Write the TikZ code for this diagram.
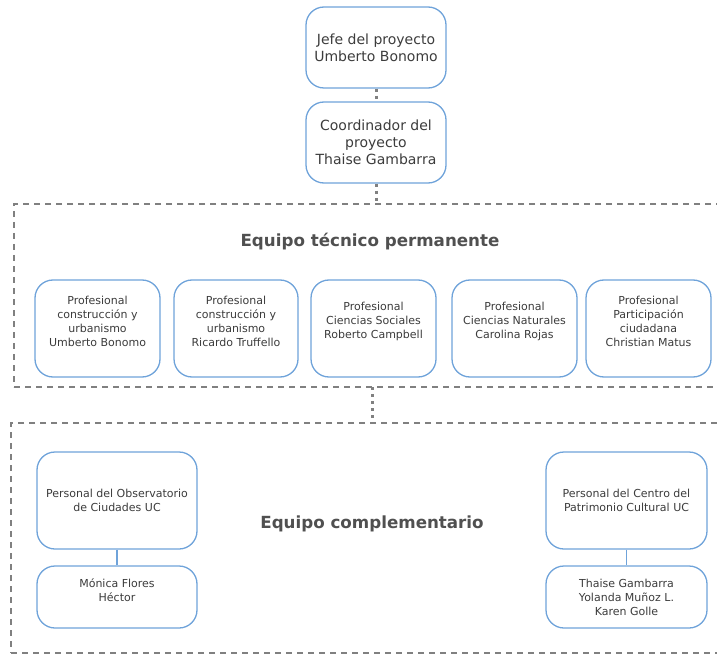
\documentclass[tikz,border=0pt]{standalone}
\usepackage{fontspec}
\setmainfont{DejaVu Sans}
\definecolor{boxblue}{HTML}{6FA3DA}
\definecolor{txtgray}{HTML}{3C3C3C}
\definecolor{framegray}{HTML}{808080}
\definecolor{titlegray}{HTML}{505050}
\begin{document}
\begin{tikzpicture}[x=1pt,y=-1pt,
  box/.style={draw=boxblue, line width=1.3pt, rounded corners=18pt, fill=white, inner sep=0pt},
  txt/.style={text=txtgray, align=center, inner sep=0pt, font=\fontsize{11}{14}\selectfont},
  ctxt/.style={text=txtgray, align=center, inner sep=0pt, font=\fontsize{11}{14}\selectfont},
  toptxt/.style={text=txtgray, align=center, inner sep=0pt, font=\fontsize{14}{17}\selectfont},
  frame/.style={draw=framegray, line width=2pt, dash pattern=on 6pt off 5pt, inner sep=0pt},
  dotline/.style={draw=framegray, line width=3pt, dash pattern=on 3pt off 4pt},
  solidline/.style={draw=boxblue, line width=1.3pt},
  title/.style={text=titlegray, font=\fontsize{16.7}{20}\selectfont\bfseries, inner sep=0pt}]
\useasboundingbox (0,0) rectangle (717,655);
\clip (0,0) rectangle (717,655);
% frames
\node[frame, minimum width=708pt, minimum height=183pt] (f1) at (368,295.5) {};
\node[frame, minimum width=711pt, minimum height=230pt] (f2) at (366.5,538) {};
% top boxes
\node[box, toptxt, minimum width=140pt, minimum height=81pt] (jefe) at (376,47.5) {Jefe del proyecto\\Umberto Bonomo};
\node[box, toptxt, minimum width=140pt, minimum height=81pt] (coord) at (376,142.5) {Coordinador del\\proyecto\\Thaise Gambarra};
\draw[dotline] (jefe.south) -- (coord.north);
\draw[dotline] (coord.south) -- (coord.south |- f1.north);
\coordinate (f1b) at (372,387);
\coordinate (f2t) at (372,423);
\draw[dotline] (f1b) -- (f2t);
% titles
\node[title] (t1) at (370,242) {Equipo técnico permanente};
\node[title] (t2) at (372,524) {Equipo complementario};
% row boxes
\node[box, minimum width=125pt, minimum height=97pt] (p1) at (97.5,328.5) {};
\node[box, minimum width=124pt, minimum height=97pt] (p2) at (236,328.5) {};
\node[box, minimum width=125pt, minimum height=97pt] (p3) at (373.5,328.5) {};
\node[box, minimum width=125pt, minimum height=97pt] (p4) at (514.5,328.5) {};
\node[box, minimum width=125pt, minimum height=97pt] (p5) at (648.5,328.5) {};
\node[txt] (p1t) at (97.5,321) {Profesional\\construcción y\\urbanismo\\Umberto Bonomo};
\node[txt] (p2t) at (236,321) {Profesional\\construcción y\\urbanismo\\Ricardo Truffello};
\node[txt] (p3t) at (373.5,321) {Profesional\\Ciencias Sociales\\Roberto Campbell};
\node[txt] (p4t) at (514.5,321) {Profesional\\Ciencias Naturales\\Carolina Rojas};
\node[txt] (p5t) at (648.5,321) {Profesional\\Participación\\ciudadana\\Christian Matus};
% complementary
\node[box, ctxt, minimum width=160pt, minimum height=97pt] (obs) at (117,500.5) {Personal del Observatorio\\de Ciudades UC};
\node[box, minimum width=160pt, minimum height=62pt] (obsp) at (117,597) {};
\node[ctxt] (obspt) at (117,590) {Mónica Flores\\Héctor};
\draw[solidline] (obs.south) -- (obsp.north);
\node[box, ctxt, minimum width=161pt, minimum height=97pt] (cen) at (626.5,500.5) {Personal del Centro del\\Patrimonio Cultural UC};
\node[box, ctxt, minimum width=161pt, minimum height=62pt] (cenp) at (626.5,597) {Thaise Gambarra\\Yolanda Muñoz L.\\Karen Golle};
\draw[solidline] (cen.south) -- (cenp.north);
\end{tikzpicture}
\end{document}
